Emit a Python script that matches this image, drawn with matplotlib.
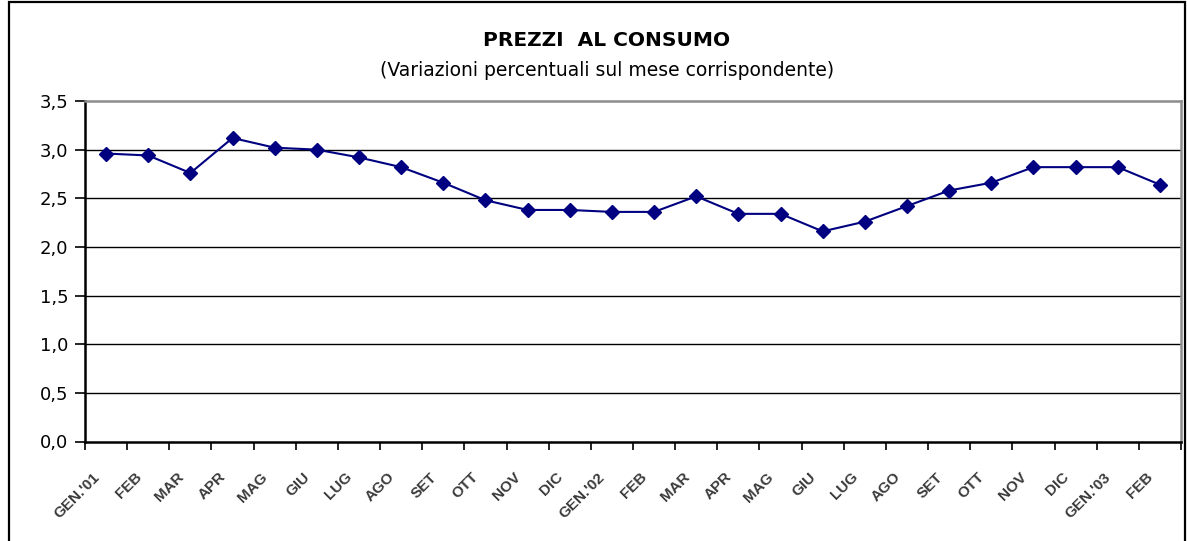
import matplotlib
matplotlib.use("Agg")
import matplotlib.pyplot as plt
import matplotlib.transforms as mtransforms
from matplotlib.patches import Rectangle
import numpy as np

months = ["GEN.'01", "FEB", "MAR", "APR", "MAG", "GIU", "LUG", "AGO", "SET", "OTT", "NOV", "DIC",
          "GEN.'02", "FEB", "MAR", "APR", "MAG", "GIU", "LUG", "AGO", "SET", "OTT", "NOV", "DIC",
          "GEN.'03", "FEB"]
values = [2.96, 2.94, 2.76, 3.12, 3.02, 3.00, 2.92, 2.82, 2.66, 2.48, 2.38, 2.38,
          2.36, 2.36, 2.52, 2.34, 2.34, 2.16, 2.26, 2.42, 2.58, 2.66, 2.82, 2.82,
          2.82, 2.64]
yticks = [0.0, 0.5, 1.0, 1.5, 2.0, 2.5, 3.0, 3.5]
ytick_labels = ["0,0", "0,5", "1,0", "1,5", "2,0", "2,5", "3,0", "3,5"]
title = "PREZZI  AL CONSUMO"
subtitle = "(Variazioni percentuali sul mese corrispondente)"

W, H = 1187, 541
fig = plt.figure(figsize=(W / 100, H / 100), dpi=100)
fig.patch.set_facecolor("white")

# outer frame
fig.patches.append(Rectangle((9 / W, -0.05), (1185 - 9) / W, (H - 2) / H + 0.05,
                             transform=fig.transFigure, fill=False,
                             edgecolor="black", linewidth=1.6))

ax = fig.add_axes([85 / W, (H - 441.5) / H, (1181 - 85) / W, (441.5 - 101) / H])
n = len(values)
x = np.arange(n)
ax.set_xlim(-0.5, n - 0.5)
ax.set_ylim(0, 3.5)

for yv in yticks[1:-1]:
    ax.axhline(yv, color="black", linewidth=1.0, zorder=1)

ax.plot(x, values, color="#000080", linewidth=1.5, marker="D", markersize=7.5,
        markerfacecolor="#000080", markeredgecolor="#000080", zorder=3)

ax.set_yticks(yticks)
ax.set_yticklabels(ytick_labels, fontsize=13, family="DejaVu Sans")
ax.tick_params(axis="y", direction="out", length=7, width=1.2, pad=5, colors="black")

ax.set_xticks(x)
ax.set_xticklabels(months, rotation=45, ha="right", va="center", rotation_mode="anchor",
                   fontsize=11, fontweight="bold", family="Liberation Sans", color="#3a3a3a")
ax.tick_params(axis="x", which="major", length=0, pad=24)
ax.set_xticks(np.arange(n + 1) - 0.5, minor=True)
ax.tick_params(axis="x", which="minor", direction="out", length=6, width=1.2, colors="black")
offset = mtransforms.ScaledTranslation(-9 / 100, 0, fig.dpi_scale_trans)
for lab in ax.get_xticklabels():
    lab.set_transform(lab.get_transform() + offset)

ax.spines["left"].set_color("black")
ax.spines["left"].set_linewidth(1.8)
ax.spines["bottom"].set_color("black")
ax.spines["bottom"].set_linewidth(1.8)
ax.spines["top"].set_color("#8c8c8c")
ax.spines["top"].set_linewidth(1.8)
ax.spines["right"].set_color("#8c8c8c")
ax.spines["right"].set_linewidth(1.8)

fig.text(607 / W, 1 - 40 / H, title, ha="center", va="center", fontsize=14.5,
         fontweight="bold", family="DejaVu Sans")
fig.text(607 / W, 1 - 70 / H, subtitle, ha="center", va="center", fontsize=13.5,
         family="DejaVu Sans")

fig.savefig("out.png", dpi=100, facecolor="white")
